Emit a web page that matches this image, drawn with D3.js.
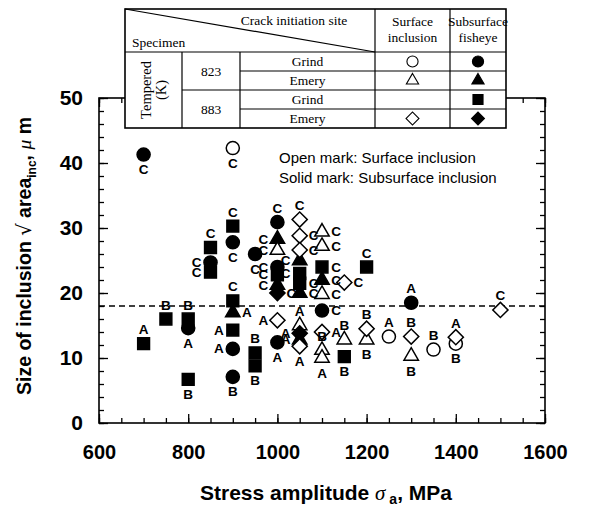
<!DOCTYPE html>
<html lang="en">
<head>
<meta charset="utf-8">
<style>
  body { margin: 0; background: white; }
  svg { font-family: 'Liberation Sans', Arial, sans-serif; }
  .tbl text { font-family: 'Liberation Serif', 'Times New Roman', serif; font-size: 13.5px; }
</style>
</head>
<body>
<svg width="592" height="506"></svg>
<script src="https://cdn.jsdelivr.net/npm/d3@7"></script>
<script>
// axis ticks
const xTicks = [600, 800, 1000, 1200, 1400, 1600]
const yTicks = [0, 10, 20, 30, 40, 50]
const threshold = 18

// [stress MPa, sqrt(area) um, crack label, label side]
const circleSolid = [
  [700, 41.3, 'C', 'b'], [800, 14.6, 'A', 'b'], [850, 24.7, 'C', 'l'],
  [900, 27.8, 'C', 'b'], [900, 11.4, 'A', 'l'], [900, 7.1, 'B', 'b'],
  [950, 26.0, 'C', 'b'], [1000, 30.9, 'C', 'a'], [1000, 24.0, 'C', 'l'],
  [1000, 12.4, 'A', 'b'], [1100, 17.3, 'C', 'r'], [1300, 18.5, 'A', 'a']
]
const circleOpen = [
  [900, 42.3, 'C', 'b'], [1250, 13.3, 'A', 'a'], [1350, 11.3, 'B', 'a'],
  [1400, 12.2, 'B', 'b']
]
const triangleSolid = [
  [900, 17.0, 'A', 'r'], [1000, 28.3, 'C', 'l'], [1000, 21.2, 'C', 'l'],
  [1050, 25.0, 'C', 'l'], [1050, 20.0, 'C', 'r'], [1050, 12.8, 'A', 'l'],
  [1100, 22.0, 'C', 'r']
]
const triangleOpen = [
  [1000, 26.6, 'C', 'l'], [1050, 15.0, 'A', 'a'], [1100, 29.4, 'C', 'r'],
  [1100, 27.2, 'C', 'r'], [1100, 19.8, 'C', 'r'], [1100, 11.2, 'B', 'a'],
  [1100, 10.0, 'A', 'b'], [1150, 12.8, 'B', 'a'], [1200, 12.8, 'B', 'b'],
  [1300, 10.3, 'B', 'b']
]
const squareSolid = [
  [700, 12.2, 'A', 'a'], [750, 16.0, 'B', 'a'], [800, 16.0, 'B', 'a'],
  [800, 6.7, 'B', 'b'], [850, 27.0, 'C', 'a'], [850, 23.2, 'C', 'l'],
  [900, 30.3, 'C', 'a'], [900, 18.8, 'C', 'a'], [900, 14.3, 'A', 'l'],
  [950, 10.8, 'B', 'a'], [950, 8.8, 'B', 'b'], [1000, 22.8, 'C', 'l'],
  [1050, 23.0, 'C', 'l'], [1050, 21.5, 'C', 'r'], [1100, 24.0, 'C', 'r'],
  [1150, 10.2, 'B', 'b'], [1200, 24.0, 'C', 'a']
]
const diamondSolid = [
  [1000, 20.0, 'C', 'r'], [1050, 13.8, 'A', 'l']
]
const diamondOpen = [
  [1000, 15.8, 'A', 'l'], [1050, 31.3, 'C', 'a'], [1050, 28.8, 'C', 'r'],
  [1050, 26.6, 'C', 'r'], [1050, 11.8, 'A', 'b'], [1100, 14.0, 'A', 'r'],
  [1150, 21.6, 'C', 'r'], [1200, 14.5, 'B', 'a'], [1300, 13.3, 'B', 'a'],
  [1400, 13.2, 'A', 'a'], [1500, 17.4, 'C', 'a']
]

// legend table rows
const tempers = ['823', '883']
const finishes = ['Grind', 'Emery', 'Grind', 'Emery']
const surfaceMarks = ['circle', 'triangle', null, 'diamond']
const subsurfaceMarks = ['circle', 'triangle', 'square', 'diamond']

const svg = d3.select('svg')
const pLeft = 99, pRight = 545, pTop = 98, pBottom = 423

const x = d3.scaleLinear().domain([600, 1600]).range([pLeft, pRight])
const y = d3.scaleLinear().domain([0, 50]).range([pBottom, pTop])

const shapes = {
  circle: d3.symbol().type(d3.symbolCircle).size(135),
  square: d3.symbol().type(d3.symbolSquare).size(140),
  triangle: d3.symbol().type(d3.symbolTriangle).size(90),
  diamond: d3.symbol().type(d3.symbolSquare).size(115)
}
const rot = s => s === 'diamond' ? ' rotate(45)' : ''

// frame + ticks on all four sides (inward)
const axisG = svg.append('g')
const minorX = d3.range(600, 1601, 50), minorY = d3.range(0, 51, 2)
const addAxis = (axis, tr) => {
  const g = axisG.append('g').attr('transform', tr).call(axis)
  g.select('.domain').remove()
  g.selectAll('line').attr('stroke', '#000').attr('stroke-width', 1.3)
  return g
}
addAxis(d3.axisBottom(x).tickValues(minorX).tickSize(-5).tickFormat(''), `translate(0,${pBottom})`)
addAxis(d3.axisTop(x).tickValues(minorX).tickSize(-5).tickFormat(''), `translate(0,${pTop})`)
addAxis(d3.axisLeft(y).tickValues(minorY).tickSize(-5).tickFormat(''), `translate(${pLeft},0)`)
addAxis(d3.axisRight(y).tickValues(minorY).tickSize(-5).tickFormat(''), `translate(${pRight},0)`)
addAxis(d3.axisTop(x).tickValues(xTicks).tickSize(-9).tickFormat(''), `translate(0,${pTop})`)
addAxis(d3.axisRight(y).tickValues(yTicks).tickSize(-9).tickFormat(''), `translate(${pRight},0)`)

const xa = addAxis(d3.axisBottom(x).tickValues(xTicks).tickSize(-9).tickPadding(22).tickFormat(d3.format('d')),
  `translate(0,${pBottom})`)
xa.selectAll('text').attr('font-size', 20).attr('font-weight', 'bold').attr('fill', '#000')
  .attr('font-family', 'Liberation Sans')
const ya = addAxis(d3.axisLeft(y).tickValues(yTicks).tickSize(-9).tickPadding(16).tickFormat(d3.format('d')),
  `translate(${pLeft},0)`)
ya.selectAll('text').attr('font-size', 21).attr('font-weight', 'bold').attr('fill', '#000')
  .attr('font-family', 'Liberation Sans')

svg.append('rect')
  .attr('x', pLeft).attr('y', pTop)
  .attr('width', pRight - pLeft).attr('height', pBottom - pTop)
  .attr('fill', 'none').attr('stroke', '#000').attr('stroke-width', 1.6)

// threshold line
svg.append('line')
  .attr('x1', pLeft).attr('x2', pRight)
  .attr('y1', y(threshold)).attr('y2', y(threshold))
  .attr('stroke', '#000').attr('stroke-width', 1.4)
  .attr('stroke-dasharray', '6,4')

// points
const series = [
  [circleSolid, 'circle', true], [circleOpen, 'circle', false],
  [triangleSolid, 'triangle', true], [triangleOpen, 'triangle', false],
  [squareSolid, 'square', true],
  [diamondSolid, 'diamond', true], [diamondOpen, 'diamond', false]
]
const off = { a: [0, -14], b: [0, 15], l: [-14, 0], r: [14, 0] }
const pts = svg.append('g')
const labs = svg.append('g')
series.forEach(([data, shape, solid]) => {
  pts.selectAll(null).data(data).join('path')
    .attr('transform', d => `translate(${x(d[0])},${y(d[1])})` + rot(shape))
    .attr('d', shapes[shape]())
    .attr('fill', solid ? '#000' : '#fff')
    .attr('stroke', '#000').attr('stroke-width', 1.5)
  labs.selectAll(null).data(data).join('text')
    .attr('x', d => x(d[0]) + off[d[3]][0])
    .attr('y', d => y(d[1]) + off[d[3]][1])
    .attr('text-anchor', 'middle').attr('dominant-baseline', 'central')
    .attr('font-size', 13.5).attr('font-weight', 'bold')
    .text(d => d[2])
})

// notes
svg.append('text').attr('x', 279).attr('y', 163).attr('font-size', 15)
  .text('Open mark: Surface inclusion')
svg.append('text').attr('x', 279).attr('y', 183).attr('font-size', 15)
  .text('Solid mark: Subsurface inclusion')

// axis titles
svg.append('text').attr('x', 326).attr('y', 500).attr('text-anchor', 'middle')
  .attr('font-size', 21).attr('font-weight', 'bold')
  .call(t => {
    t.append('tspan').text('Stress amplitude  ')
    t.append('tspan').attr('font-family', 'Liberation Serif').attr('font-style', 'italic')
      .attr('font-weight', 'normal').text('σ')
    t.append('tspan').attr('font-size', 14).attr('dy', 4).text(' a')
    t.append('tspan').attr('dy', -4).text(', MPa')
  })
svg.append('text').attr('transform', 'translate(31,256) rotate(-90)')
  .attr('text-anchor', 'middle').attr('font-size', 19.5).attr('font-weight', 'bold')
  .call(t => {
    t.append('tspan').text('Size of inclusion ')
    t.append('tspan').attr('font-family', 'DejaVu Sans').attr('font-weight', 'normal').text('√')
    t.append('tspan').text(' area')
    t.append('tspan').attr('font-size', 12).attr('dy', 5).text('inc')
    t.append('tspan').attr('dy', -5).text(', ')
    t.append('tspan').attr('font-family', 'Liberation Serif').attr('font-style', 'italic')
      .attr('font-weight', 'normal').text('μ')
    t.append('tspan').text(' m')
  })

// legend table
const tb = svg.append('g').attr('class', 'tbl')
const tL = 125, tR = 506, tT = 9, tH = 52, rowH = 19
const c1 = 182, c2 = 240, c3 = 375, c4 = 450
const tB = tH + 4 * rowH
tb.append('rect').attr('x', tL).attr('y', tT).attr('width', tR - tL).attr('height', tB - tT)
  .attr('fill', '#fff').attr('stroke', '#000').attr('stroke-width', 1.6)
const ln = (x1, y1, x2, y2) => tb.append('line')
  .attr('x1', x1).attr('y1', y1).attr('x2', x2).attr('y2', y2)
  .attr('stroke', '#000').attr('stroke-width', 1.2)
ln(tL, tH, tR, tH)
ln(tL, tT, c3, tH)
ln(c3, tT, c3, tB); ln(c4, tT, c4, tB)
ln(c1, tH, c1, tB); ln(c2, tH, c2, tB)
ln(c2, tH + rowH, tR, tH + rowH)
ln(c1, tH + 2 * rowH, tR, tH + 2 * rowH)
ln(c2, tH + 3 * rowH, tR, tH + 3 * rowH)

const tt = (txt, px, py, anchor = 'middle') => tb.append('text')
  .attr('x', px).attr('y', py).attr('text-anchor', anchor)
  .attr('dominant-baseline', 'central').text(txt)
tt('Crack initiation site', 294, 20)
tt('Specimen', 132, 42, 'start')
tt('Surface', (c3 + c4) / 2, 21); tt('inclusion', (c3 + c4) / 2, 37)
tt('Subsurface', (c4 + tR) / 2, 21); tt('fisheye', (c4 + tR) / 2, 37)
tempers.forEach((t, i) => tt(t, (c1 + c2) / 2, tH + rowH * (2 * i + 1)))
finishes.forEach((f, i) => tt(f, (c2 + c3) / 2, tH + rowH * (i + 0.5)))
tb.append('text').attr('transform', `translate(${(tL + c1) / 2},${tH + 2 * rowH}) rotate(-90)`)
  .attr('text-anchor', 'middle').style('font-size', '14.5px')
  .call(t => {
    t.append('tspan').attr('x', 0).attr('dy', -3).text('Tempered')
    t.append('tspan').attr('x', 0).attr('dy', 15).text('(K)')
  })
const mark = (shape, solid, cx, cy) => tb.append('path')
  .attr('transform', `translate(${cx},${cy}) scale(0.85)` + rot(shape))
  .attr('d', shapes[shape]())
  .attr('fill', solid ? '#000' : '#fff').attr('stroke', '#000').attr('stroke-width', 1.3)
surfaceMarks.forEach((s, i) => { if (s) mark(s, false, (c3 + c4) / 2, tH + rowH * (i + 0.5)) })
subsurfaceMarks.forEach((s, i) => mark(s, true, (c4 + tR) / 2, tH + rowH * (i + 0.5)))
</script>
</body>
</html>
